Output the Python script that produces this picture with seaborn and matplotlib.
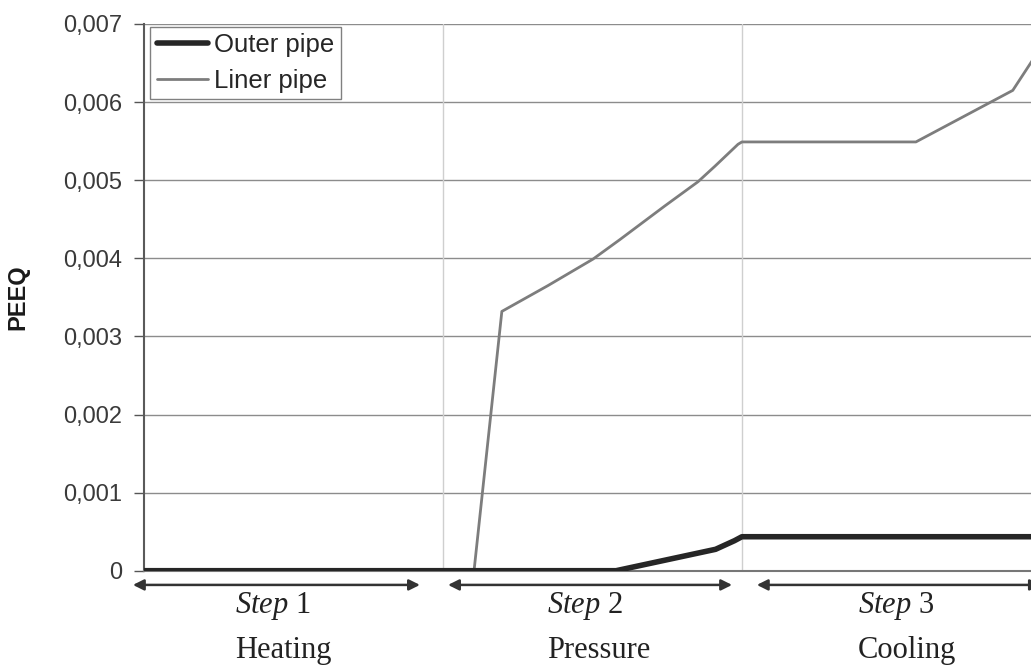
import numpy as np
import pandas as pd
import matplotlib
matplotlib.use("Agg")
import matplotlib.pyplot as plt
import matplotlib.transforms as mtransforms
from matplotlib.ticker import FuncFormatter, MultipleLocator
import seaborn as sns

# ---- data ----
liner_x = [0.0, 1.104, 1.197, 1.351, 1.502, 1.592, 1.742, 1.853, 1.910, 1.987, 2.0, 2.582, 2.906, 3.0]
liner_y = [0.0, 0.0, 3.32e-3, 3.65e-3, 3.99e-3, 4.24e-3, 4.67e-3, 4.98e-3, 5.18e-3, 5.46e-3,
           5.49e-3, 5.49e-3, 6.15e-3, 6.70e-3]
outer_x = [0.0, 1.579, 1.912, 1.975, 2.0, 3.0]
outer_y = [0.0, 0.0, 0.274e-3, 0.384e-3, 0.435e-3, 0.435e-3]

step_labels = ["Step 1", "Step 2", "Step 3"]
step_names = ["Heating", "Pressure", "Cooling"]
step_text_x = [0.304, 1.348, 2.388]
y_ticks = [0, 0.001, 0.002, 0.003, 0.004, 0.005, 0.006, 0.007]

sns.set_theme(style="white")
plt.rcParams['font.family'] = ['Liberation Sans', 'DejaVu Sans']
plt.rcParams['mathtext.fontset'] = 'custom'
plt.rcParams['mathtext.rm'] = 'Liberation Serif'
plt.rcParams['mathtext.it'] = 'Liberation Serif:italic'

fig = plt.figure(figsize=(10.31, 6.67), dpi=100)
ax = fig.add_axes([144 / 1031, 96.3 / 667, 1 - 144 / 1031, 546.7 / 667])

df_outer = pd.DataFrame({"x": outer_x, "y": outer_y})
df_liner = pd.DataFrame({"x": liner_x, "y": liner_y})

# grid
for yv in y_ticks[1:]:
    ax.axhline(yv, color="#8c8c8c", lw=1.0, zorder=0)
for xv in [1.0, 2.0]:
    ax.axvline(xv, color="#cfcfcf", lw=1.0, zorder=0)

sns.lineplot(data=df_liner, x="x", y="y", ax=ax, color="#7d7d7d", lw=2.0,
             sort=False, estimator=None, label="Liner pipe", zorder=3)
sns.lineplot(data=df_outer, x="x", y="y", ax=ax, color="#262626", lw=4.0,
             sort=False, estimator=None, label="Outer pipe", zorder=4)

ax.set_xlim(0, 2.967)
ax.set_ylim(0, 0.007)
ax.yaxis.set_major_locator(MultipleLocator(0.001))

def fmt(v, pos):
    if abs(v) < 1e-12:
        return "0"
    return f"{v:.3f}".replace(".", ",")

ax.yaxis.set_major_formatter(FuncFormatter(fmt))
ax.set_xticks([])
ax.set_xlabel("")
ax.set_ylabel("PEEQ", fontsize=17, fontweight="bold", color="#1a1a1a")
ax.yaxis.set_label_coords(-0.1297, 0.5)
ax.tick_params(axis="y", which="major", left=True, length=7, width=1, color="#555555",
               labelsize=17, labelcolor="#3a3a3a", pad=9)

for s in ["top", "right"]:
    ax.spines[s].set_visible(False)
ax.spines["left"].set_color("#5a5a5a")
ax.spines["left"].set_linewidth(1.5)
ax.spines["bottom"].set_color("#777777")
ax.spines["bottom"].set_linewidth(1.5)

# legend (Outer first)
handles, labels = ax.get_legend_handles_labels()
order = [labels.index("Outer pipe"), labels.index("Liner pipe")]
leg = ax.legend([handles[i] for i in order], [labels[i] for i in order],
                loc="upper left", bbox_to_anchor=(0.007, 0.995), fontsize=18.5,
                frameon=True, fancybox=False, edgecolor="#808080", framealpha=1,
                handlelength=2.0, handletextpad=0.25, borderpad=0.25, labelspacing=0.45,
                borderaxespad=0.0)
leg.get_frame().set_linewidth(1.0)

# step annotations below the axis
trans = mtransforms.blended_transform_factory(ax.transData, ax.transAxes)
arrow_spans = [(-0.037, 0.923), (1.017, 1.967), (2.05, 3.0)]
for (a, b), tx, lab, name in zip(arrow_spans, step_text_x, step_labels, step_names):
    ax.annotate("", xy=(a, -0.026), xytext=(b, -0.026), xycoords=trans, textcoords=trans,
                arrowprops=dict(arrowstyle="<|-|>", color="#333333", lw=1.8,
                                mutation_scale=16, shrinkA=0, shrinkB=0),
                annotation_clip=False)
    word, num = lab.split()
    ax.text(tx, -0.0774, rf"$\mathit{{{word}}}$ {num}", transform=trans, ha="left",
            va="baseline", fontsize=22, family="Liberation Serif", color="#222222")
    ax.text(tx, -0.1597, name, transform=trans, ha="left", va="baseline",
            fontsize=22, family="Liberation Serif", color="#222222")

fig.savefig("out.png", dpi=100)
